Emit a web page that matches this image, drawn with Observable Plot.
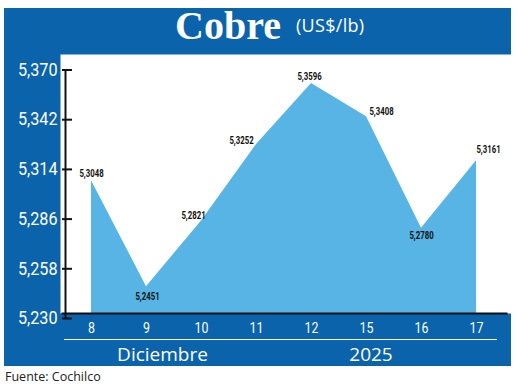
<!DOCTYPE html>
<html>
<head>
<meta charset="utf-8">
<script src="https://cdn.jsdelivr.net/npm/d3@7"></script>
<script src="https://cdn.jsdelivr.net/npm/@observablehq/plot@0.6"></script>
<style>
  html, body { margin: 0; padding: 0; background: #ffffff; }
  #wrap { position: relative; width: 520px; height: 388px; overflow: hidden; background: #ffffff; }
  .abs { position: absolute; white-space: nowrap; line-height: 1; }
  #band { left: 4px; top: 8px; width: 507px; height: 358px; background: #0b63ac; }
  #chart { left: 0; top: 0; }
  #title { left: 175px; top: 5.5px; font-family: "Liberation Serif", serif; font-weight: bold; font-size: 40px; color: #ffffff; }
  #unit { left: 296px; top: 16px; font-family: "Open Sans", sans-serif; font-size: 18px; letter-spacing: 0.3px; color: #ffffff; }
  #rule { left: 64px; top: 338.5px; width: 433px; height: 1.5px; background: #ffffff; }
  .period { top: 344.5px; width: 200px; text-align: center; font-family: "Open Sans", sans-serif; font-size: 19px; color: #ffffff; }
  #month { left: 62.5px; }
  #year { left: 271px; }
  #source { left: 5px; top: 371px; font-family: "Open Sans", sans-serif; font-size: 12.5px; color: #222222; }
</style>
</head>
<body>
<div id="wrap">
  <div id="band" class="abs"></div>
  <div id="chart" class="abs"></div>
  <div id="title" class="abs"></div>
  <div id="unit" class="abs"></div>
  <div id="rule" class="abs"></div>
  <div id="month" class="abs period"></div>
  <div id="year" class="abs period"></div>
  <div id="source" class="abs"></div>
</div>
<script>
// ---- data ----
const days = ["8", "9", "10", "11", "12", "15", "16", "17"];
const prices = [5.3048, 5.2451, 5.2821, 5.3252, 5.3596, 5.3408, 5.2780, 5.3161];
const yTicks = [5.230, 5.258, 5.286, 5.314, 5.342, 5.370];
const titleText = "Cobre";
const unitText = "(US$/lb)";
const monthText = "Diciembre";
const yearText = "2025";
const sourceText = "Fuente: Cochilco";

// ---- label placement (offsets from each point) ----
const labelOffsets = {
  "8": [0, -7], "9": [1, 10], "10": [-8, -5], "11": [-15, -4],
  "12": [-2, -7], "15": [15, -5], "16": [0, 7], "17": [12, -11]
};

const data = days.map((d, i) => ({day: d, value: prices[i]}));
const fmt3 = v => d3.format(".3f")(v).replace(".", ",");
const fmt4 = v => d3.format(".4f")(v).replace(".", ",");
const cond = "Roboto, 'Open Sans', sans-serif";

document.getElementById("title").textContent = titleText;
document.getElementById("unit").textContent = unitText;
document.getElementById("month").textContent = monthText;
document.getElementById("year").textContent = yearText;
document.getElementById("source").textContent = sourceText;

const labelMarks = data.map(d => Plot.text([d], {
  x: "day", y: "value", text: r => fmt4(r.value),
  dx: labelOffsets[d.day][0], dy: labelOffsets[d.day][1],
  fill: "#111111", fontFamily: cond, fontWeight: "bold", fontSize: 10.5,
  className: "vlabel"
}));

const chart = Plot.plot({
  width: 520, height: 388,
  marginLeft: 60, marginRight: 9, marginTop: 54, marginBottom: 75,
  style: {background: "transparent", overflow: "visible", fontFamily: cond},
  x: {type: "point", domain: days, range: [88, 478], padding: 0},
  y: {domain: [yTicks[0], yTicks[yTicks.length - 1]], range: [313, 64.5]},
  marks: [
    Plot.frame({fill: "#ffffff", stroke: "#ffffff", strokeWidth: 0}),
    Plot.areaY(data, {x: "day", y: "value", fill: "#57b4e4", clip: "frame"}),
    Plot.frame({anchor: "bottom", stroke: "#111111", strokeWidth: 2, insetLeft: 2, insetRight: 5}),
    Plot.ruleX([days[0]], {x: d => d, y1: yTicks[0], y2: yTicks[yTicks.length - 1], dx: -26, dy: 5, stroke: "#111111", strokeWidth: 2}),
    Plot.axisY(yTicks, {anchor: "left", tickSize: -10, fill: "none", dx: 2, dy: 5, stroke: "#111111", strokeWidth: 2, label: null}),
    Plot.axisY(yTicks, {anchor: "left", tickSize: 0, tickPadding: 3, tickFormat: fmt3, fill: "#ffffff", fontSize: 18, fontFamily: cond, dy: 5, label: null, className: "ylab"}),
    Plot.axisX({anchor: "bottom", tickSize: 0, tickPadding: 8, fill: "#ffffff", fontSize: 15.5, fontFamily: cond, label: null, className: "xlab"}),
    ...labelMarks
  ]
});
document.getElementById("chart").appendChild(chart);

// condensed look: compress the glyphs horizontally
function condense(selector, factor) {
  d3.select(chart).selectAll(selector).each(function() {
    const w = this.getComputedTextLength();
    if (w > 0) d3.select(this).attr("textLength", w * factor).attr("lengthAdjust", "spacingAndGlyphs");
  });
}
condense(".vlabel text", 0.74);
condense(".ylab text", 0.9);
condense(".xlab text", 0.8);
</script>
</body>
</html>
